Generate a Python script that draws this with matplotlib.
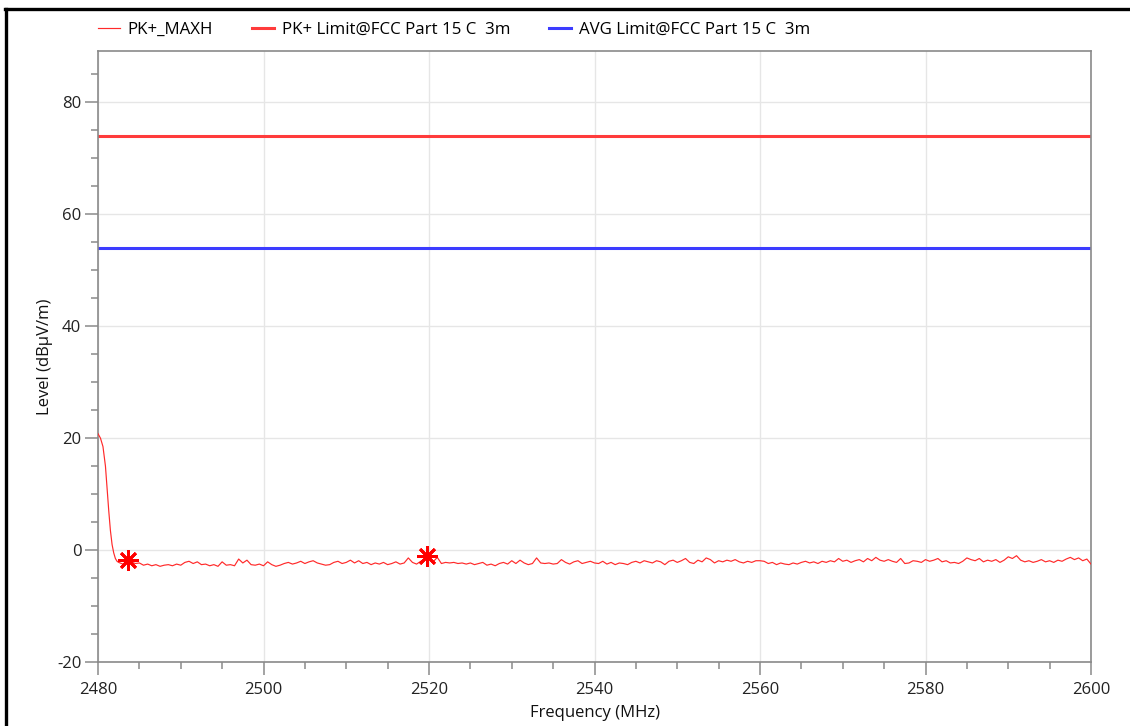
import numpy as np
import matplotlib
matplotlib.use("Agg")
import matplotlib.pyplot as plt
from matplotlib.lines import Line2D

plt.rcParams['font.family'] = ['Open Sans', 'DejaVu Sans']
plt.rcParams['axes.unicode_minus'] = False

# ---- data ----
# steep skirt at the band edge
head_freq = [2480.0, 2480.3, 2480.6, 2480.9, 2481.1, 2481.3, 2481.5, 2481.7, 2481.9, 2482.1, 2482.3]
head_level = [20.8, 20.0, 18.5, 15.0, 11.0, 7.0, 3.5, 1.0, -0.5, -1.5, -2.0]

# noise floor, 0.5 MHz steps from 2482.5 to 2600 MHz
floor_a = [-2.2, -2.5, -1.9, -2.1, -2.4, -2.3, -2.7, -2.5, -2.8, -2.6,
           -2.9, -2.7, -2.6, -2.8, -2.5, -2.7, -2.2, -2.0, -2.4, -2.1,
           -2.6, -2.5, -2.8, -2.6, -2.9, -2.1, -2.7, -2.6, -2.8, -1.6,
           -2.3, -1.8, -2.6, -2.7, -2.5, -2.8, -2.1, -2.6, -2.9, -2.7,
           -2.4, -2.2, -2.5, -2.3, -2.0, -2.4, -2.1, -1.9, -2.3, -2.5,
           -2.7, -2.6, -2.2, -2.0, -2.4, -2.2]
floor_b = [-1.8, -2.3, -1.9, -2.4, -2.2, -2.6, -2.3, -2.5, -2.2, -2.6,
           -2.4, -2.1, -2.5, -2.3, -1.4, -2.2, -2.5, -2.0, -1.6, -1.5,
           -2.1, -1.3, -2.4, -2.2, -2.3, -2.2, -2.4, -2.3, -2.5, -2.3,
           -2.6, -2.4, -2.2, -2.7, -2.5, -2.8, -2.4, -2.2, -2.5, -1.9,
           -2.4, -1.8, -2.3, -2.6, -2.4, -1.4, -2.3, -2.4, -2.3, -2.5,
           -2.4, -1.7, -2.2, -2.5, -2.1, -1.9, -2.4, -2.2, -2.0, -2.3]
floor_c = [-2.4, -2.0, -2.5, -2.2, -2.6, -2.3, -2.4, -2.6, -2.2, -2.0,
           -2.3, -1.9, -2.1, -2.3, -1.9, -2.1, -2.6, -2.0, -1.8, -2.2,
           -1.9, -1.5, -2.2, -2.4, -1.8, -2.1, -1.4, -1.7, -2.3, -1.9,
           -2.1, -1.8, -2.0, -1.7, -2.1, -2.3, -2.0, -2.2, -1.9, -1.9,
           -2.0, -2.4, -2.2, -2.6, -2.3, -2.5, -2.6, -2.3, -2.5, -2.2,
           -2.0, -2.3, -2.1, -2.4, -2.0, -2.2, -1.9, -2.1, -1.5, -2.0]
floor_d = [-1.8, -2.2, -1.9, -1.7, -2.1, -1.5, -1.9, -1.3, -1.8, -2.0,
           -1.7, -2.0, -2.2, -1.5, -2.4, -2.3, -1.9, -2.0, -2.2, -1.7,
           -2.0, -1.8, -1.5, -2.1, -1.9, -2.3, -2.2, -2.4, -2.0, -1.4,
           -1.7, -1.9, -1.5, -2.1, -1.8, -2.0, -1.7, -2.2, -1.8, -1.2,
           -1.5, -1.0, -1.8, -2.1, -1.9, -2.2, -2.0, -1.7, -2.1, -1.9,
           -2.2, -1.8, -2.0, -1.6, -1.3, -1.7, -1.4, -1.9, -1.6, -2.5]
floor_freq = np.arange(2482.5, 2600.01, 0.5)

freq = np.concatenate([head_freq, floor_freq])
level = np.concatenate([head_level, floor_a, floor_b, floor_c, floor_d])

pk_limit = 74.0
avg_limit = 54.0

# peak markers
mark_freq = [2483.6, 2519.8]
mark_level = [-1.8, -1.0]

# ---- plot ----
fig = plt.figure(figsize=(11.3, 7.26), dpi=100)
ax = fig.add_axes([98/1130, 1 - 662/726, (1091-98)/1130, (662-51)/726])

ax.plot(freq, level, color='#ff2a2a', lw=0.85, label='PK+_MAXH', zorder=3)
ax.axhline(pk_limit, color='#ff3b3b', lw=2.2, label='PK+ Limit@FCC Part 15 C  3m', zorder=2)
ax.axhline(avg_limit, color='#3c3cff', lw=2.2, label='AVG Limit@FCC Part 15 C  3m', zorder=2)
ax.plot(mark_freq, mark_level, ls='none', marker=(8, 2, 0), ms=15, mew=2.0,
        color='#ff0000', zorder=4)

ax.set_xlim(2480, 2600)
ax.set_ylim(-20, 89.2)
ax.set_xticks(np.arange(2480, 2601, 20))
ax.set_xticks(np.arange(2480, 2601, 5), minor=True)
ax.set_yticks(np.arange(-20, 81, 20))
ax.set_yticks(np.arange(-20, 89, 5), minor=True)
ax.grid(True, which='major', color='#e6e6e6', lw=1.0)
ax.set_axisbelow(True)

for s in ax.spines.values():
    s.set_color('#8a8a8a')
    s.set_linewidth(1.2)
ax.tick_params(which='major', length=9.5, width=1.1, color='#8a8a8a',
               labelsize=12, labelcolor='#222222')
ax.tick_params(which='minor', length=5, width=1.1, color='#8a8a8a')
ax.tick_params(axis='x', pad=5)
ax.tick_params(axis='y', pad=2.5)

ax.set_xlabel('Frequency (MHz)', fontsize=12, color='#111111')
ax.set_ylabel('Level (dBµV/m)', fontsize=12, color='#111111')
ax.xaxis.set_label_coords(0.5, (662 - 713) / 611)
ax.xaxis.label.set_va('center')
ax.yaxis.set_label_coords((45 - 98) / 993, 0.5)
ax.yaxis.label.set_va('center')

fig.legend(loc='center left', bbox_to_anchor=(98/1130, 1 - 30/726), ncol=3,
           frameon=False, fontsize=12.2, handlelength=1.3, handletextpad=0.45,
           columnspacing=2.3, borderaxespad=0, borderpad=0)

# window frame (top and left edges of the screenshot)
fig.add_artist(Line2D([5/1130, 1.0], [1 - 8.5/726, 1 - 8.5/726], color='black', lw=2.4,
                      transform=fig.transFigure))
fig.add_artist(Line2D([6/1130, 6/1130], [0, 1 - 8.5/726], color='black', lw=2.4,
                      transform=fig.transFigure))

fig.savefig('out.png', dpi=100)
